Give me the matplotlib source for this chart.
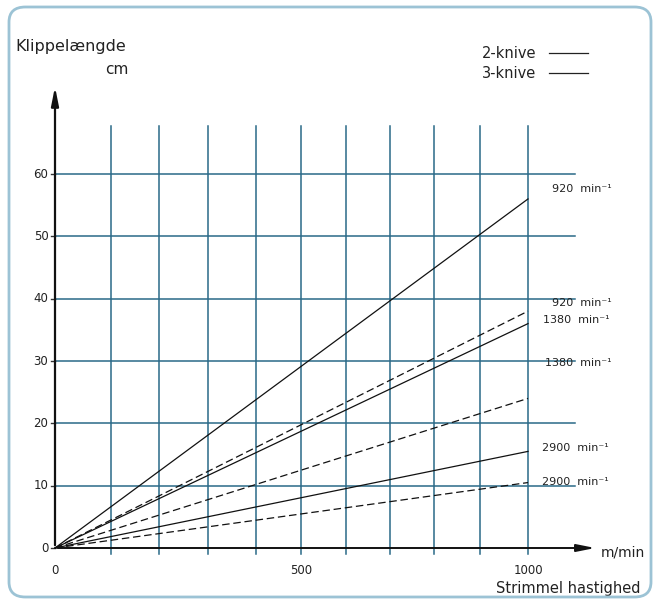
import matplotlib.pyplot as plt
from matplotlib.patches import FancyBboxPatch

# data
speeds = [0, 1000]                      # m/min
rpm_labels = ['920', '1380', '2900']
cut_2knive = [56.0, 36.0, 15.5]         # cm at 1000 m/min, solid
cut_3knive = [38.0, 24.0, 10.5]         # cm at 1000 m/min, dashed
x_grid = [118, 220, 323, 425, 520, 615, 708, 801, 898, 1000]
y_ticks = [0, 10, 20, 30, 40, 50, 60]
x_tick_pos = [0, 520, 1000]
x_tick_lab = ['0', '500', '1000']

grid_col = '#2a6a88'
txt = dict(family='DejaVu Sans', color='#222222')

fig = plt.figure(figsize=(6.56, 6.02), dpi=100)
ax = fig.add_axes([0, 0, 1, 1])
# map data to pixels: x0 at px 55, 1000 at px 528; y0 at px 548, 60 at px 174
sx = 0.473
sy = 6.233
ax.set_xlim(-55 / sx, (656 - 55) / sx)
ax.set_ylim(-(602 - 548) / sy, 548 / sy)
ax.axis('off')

def px(x, y):
    return (x - 55) / sx, (548 - y) / sy

# rounded border
fig.patches.append(FancyBboxPatch((9 / 656, 5 / 602), 642 / 656, 590 / 602,
                                  boxstyle='round,pad=0,rounding_size=0.025',
                                  transform=fig.transFigure, fill=False,
                                  edgecolor='#9cc3d5', linewidth=2))

# grid
ymax_v = (548 - 126) / sy
for gx in x_grid:
    ax.plot([gx, gx], [-0.9, ymax_v], color=grid_col, lw=1.1, clip_on=False)
xmax_h = (575 - 55) / sx
for gy in y_ticks[1:]:
    ax.plot([0, xmax_h], [gy, gy], color=grid_col, lw=1.1, clip_on=False)
    ax.plot([-9, 0], [gy, gy], color='#333333', lw=1, clip_on=False)
ax.plot([-9, 0], [0, 0], color='#333333', lw=1, clip_on=False)

# axes with arrows
ax.annotate('', xy=(0, (548 - 84) / sy), xytext=(0, 0),
            arrowprops=dict(arrowstyle='-|>,head_length=1.1,head_width=0.22',
                            color='#111111', lw=1.6))
ax.annotate('', xy=((598 - 55) / sx, 0), xytext=(0, 0),
            arrowprops=dict(arrowstyle='-|>,head_length=1.1,head_width=0.22',
                            color='#111111', lw=1.4))

# cut length lines
for v in cut_2knive:
    ax.plot(speeds, [0, v], color='#111111', lw=0.9, clip_on=False)
for v in cut_3knive:
    ax.plot(speeds, [0, v], color='#111111', lw=0.9, ls=(0, (6, 3)), clip_on=False)

# tick labels
for t in y_ticks:
    ax.text(-14, t, str(t), ha='right', va='center', fontsize=8.5, **txt)
for p, l in zip(x_tick_pos, x_tick_lab):
    ax.text(p, -3.6, l, ha='center', va='center', fontsize=8.5, **txt)

# line labels
lab_pos = [(552, 189, 0, '2'), (552, 303, 0, '3'), (543, 320, 1, '2'),
           (545, 363, 1, '3'), (542, 448, 2, '2'), (542, 482, 2, '3')]
for xp, yp, i, k in lab_pos:
    x, y = px(xp, yp)
    ax.text(x, y, rpm_labels[i] + '  min\u207b\u00b9', ha='left', va='center',
            fontsize=8, **txt)

# legend
for yp, name in [(53, '2-knive'), (73, '3-knive')]:
    x, y = px(482, yp)
    ax.text(x, y, name, ha='left', va='center', fontsize=10.5, **txt)
    x1, _ = px(549, yp)
    x2, _ = px(588, yp)
    ax.plot([x1, x2], [y, y], color='#222222', lw=0.9, clip_on=False)

# axis titles
x, y = px(15, 47)
ax.text(x, y, 'Klippelængde', ha='left', va='center', fontsize=11.5, **txt)
x, y = px(129, 70)
ax.text(x, y, 'cm', ha='right', va='center', fontsize=11, **txt)
x, y = px(601, 553)
ax.text(x, y, 'm/min', ha='left', va='center', fontsize=10, **txt)
x, y = px(641, 589)
ax.text(x, y, 'Strimmel hastighed', ha='right', va='center', fontsize=10.5, **txt)

fig.savefig('out.png', dpi=100, facecolor='white')
